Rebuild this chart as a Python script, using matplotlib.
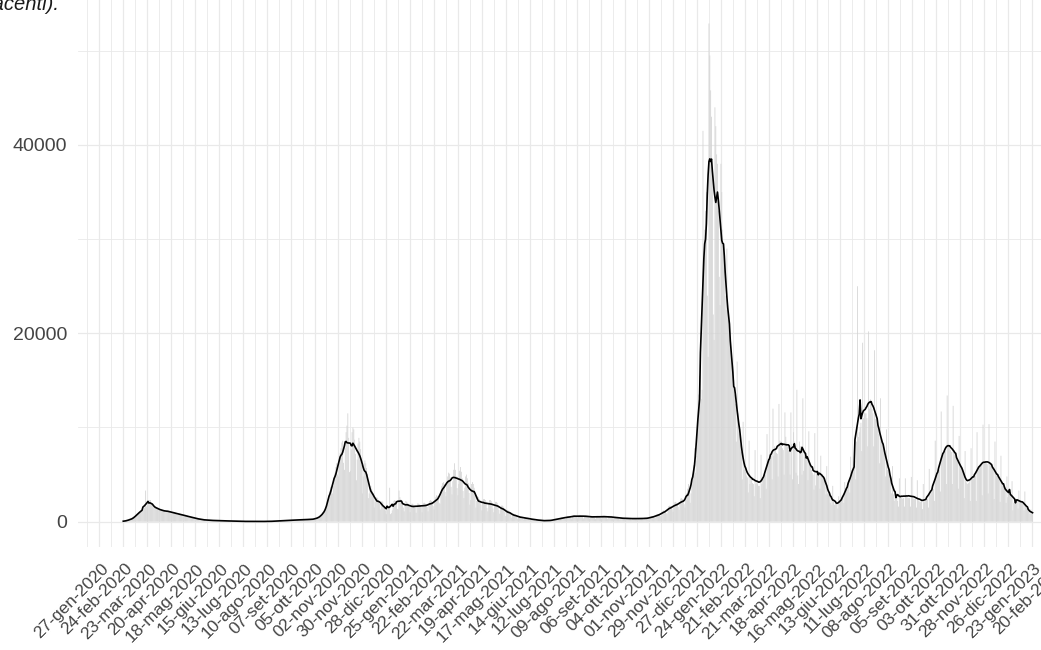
import numpy as np
import pandas as pd
import matplotlib
matplotlib.use("Agg")
import matplotlib.pyplot as plt
import matplotlib.dates as mdates
from matplotlib.transforms import ScaledTranslation

# Daily new positives, one row per week (Mon..Sun), grouped by ISO year.
cases_2020 = [
    20, 40, 60, 80, 110, 150, 170,
    180, 220, 260, 300, 340, 380, 420,
    550, 650, 750, 850, 950, 1000, 1060,
    1100, 1200, 1250, 1400, 1500, 3300, 1600,
    1700, 2000, 1900, 2300, 2300, 2000, 1800,
    1500, 1600, 1600, 1500, 1500, 1400, 1400,
    1200, 1300, 1250, 1250, 1200, 1200, 1150,
    1000, 1100, 1150, 1150, 1150, 1100, 1100,
    850, 950, 1000, 1000, 950, 950, 950,
    700, 750, 850, 850, 800, 800, 780,
    560, 600, 680, 680, 650, 640, 600,
    420, 450, 500, 500, 490, 480, 450,
    280, 300, 340, 340, 320, 300, 290,
    190, 190, 220, 210, 200, 200, 190,
    130, 140, 160, 160, 150, 140, 135,
    110, 115, 130, 130, 125, 115, 115,
    90, 95, 110, 110, 105, 100, 90,
    70, 75, 90, 90, 85, 80, 70,
    50, 55, 70, 70, 60, 60, 55,
    35, 40, 45, 45, 40, 40, 35,
    25, 30, 35, 35, 30, 30, 25,
    20, 25, 30, 30, 25, 25, 20,
    15, 20, 25, 25, 20, 20, 15,
    20, 25, 30, 30, 25, 25, 20,
    25, 30, 35, 35, 30, 30, 25,
    45, 55, 65, 65, 65, 60, 65,
    70, 85, 95, 100, 100, 95, 85,
    100, 110, 130, 130, 125, 125, 120,
    130, 150, 170, 175, 170, 165, 160,
    150, 180, 200, 210, 200, 200, 190,
    170, 210, 235, 240, 235, 230, 220,
    190, 230, 260, 270, 265, 260, 240,
    230, 300, 380, 420, 450, 480, 400,
    500, 650, 800, 950, 1050, 1150, 1200,
    1400, 1800, 2300, 2800, 3300, 3700, 3600,
    3000, 3800, 4600, 5200, 5800, 6200, 5000,
    4800, 6200, 7300, 7800, 8400, 8600, 6250,
    5500, 7800, 9500, 10200, 11500, 8900, 5260,
    5400, 7700, 9500, 10000, 9800, 8700, 7210,
    4400, 6600, 8300, 8900, 8500, 7700, 6000,
    3000, 4800, 6200, 6500, 6200, 5700, 5050,
    2500, 3000, 3700, 3800, 3500, 3200, 3050,
    1500, 2100, 2500, 2600, 2500, 2300, 1900,
    1300, 1900, 2200, 2100, 1700, 1500, 1200,
    800, 1300, 1500, 1600, 3600, 800, 900,
]

cases_2021 = [
    1200, 1900, 2200, 2300, 2200, 2000, 1360,
    1300, 3300, 2600, 2400, 2300, 2000, 1500,
    1100, 1700, 2200, 2100, 2000, 1900, 1600,
    1000, 1500, 1900, 1900, 1800, 1700, 1540,
    950, 1600, 1950, 1900, 1850, 1750, 1550,
    1000, 1650, 2000, 2000, 1900, 1800, 1550,
    1100, 1800, 2200, 2300, 2200, 2050, 1650,
    1300, 2100, 2600, 2800, 2700, 2600, 2000,
    1900, 3000, 3800, 4100, 4200, 4000, 3150,
    2700, 3900, 4800, 5200, 5100, 4700, 3700,
    2900, 4300, 5500, 6200, 5500, 4800, 3560,
    2800, 4000, 5400, 5800, 5300, 4600, 3250,
    2500, 3600, 4800, 5000, 4600, 4100, 3050,
    1800, 2300, 4000, 4200, 4000, 3600, 2850,
    1500, 2200, 2700, 2600, 2400, 2200, 1800,
    1200, 2000, 2400, 2400, 2300, 2100, 1460,
    1100, 1900, 2300, 2300, 2200, 1950, 1410,
    1000, 1700, 2100, 2100, 2000, 1750, 1250,
    850, 1400, 1700, 1700, 1600, 1400, 1010,
    600, 1000, 1250, 1200, 1150, 1000, 800,
    420, 700, 850, 800, 760, 690, 540,
    300, 480, 580, 560, 540, 500, 400,
    230, 370, 450, 430, 420, 380, 310,
    160, 260, 320, 300, 290, 270, 220,
    100, 170, 210, 200, 190, 180, 140,
    60, 110, 135, 130, 125, 115, 95,
    70, 120, 150, 160, 150, 140, 120,
    130, 230, 280, 300, 290, 280, 240,
    220, 380, 450, 450, 430, 400, 330,
    280, 480, 580, 570, 550, 500, 400,
    340, 580, 700, 690, 660, 600, 490,
    350, 600, 720, 710, 680, 630, 510,
    340, 570, 690, 670, 650, 590, 480,
    300, 510, 620, 600, 580, 530, 430,
    300, 520, 620, 610, 590, 540, 425,
    310, 530, 640, 630, 610, 550, 440,
    300, 510, 620, 600, 580, 530, 430,
    260, 440, 530, 520, 500, 460, 370,
    230, 370, 450, 430, 420, 380, 310,
    200, 340, 410, 400, 390, 350, 290,
    190, 330, 390, 380, 370, 340, 275,
    190, 330, 400, 390, 380, 340, 280,
    200, 350, 420, 410, 400, 370, 300,
    260, 420, 540, 560, 560, 520, 430,
    400, 620, 780, 800, 790, 750, 620,
    600, 900, 1150, 1200, 1150, 1100, 900,
    850, 1300, 1650, 1700, 1650, 1550, 1310,
    1050, 1650, 2050, 2100, 2000, 1900, 1570,
    1250, 1950, 2450, 2500, 2400, 2300, 1850,
    1500, 2300, 3000, 3500, 4000, 3300, 2000,
    3000, 4300, 5000, 6000, 7800, 5200, 6500,
    7000, 11000, 13500, 15500, 17000, 13000, 14000,
]

cases_2022 = [
    41500, 28000, 31000, 33000, 35000, 24000, 17500,
    52900, 49500, 45800, 43000, 37000, 22000, 19300,
    44000, 42000, 39000, 38000, 33000, 26000, 23000,
    38000, 35000, 31000, 29000, 27000, 24000, 22500,
    29000, 23000, 21500, 20000, 19000, 18000, 16500,
    16500, 15000, 13500, 12500, 8500, 17000, 11500,
    10500, 9300, 8200, 7400, 4500, 10600, 5500,
    5800, 5300, 4900, 4700, 3100, 8600, 4000,
    4700, 4400, 4100, 4000, 2700, 7600, 4000,
    4200, 4000, 3800, 3800, 2500, 7100, 4000,
    4500, 4600, 4700, 5000, 3500, 9300, 6200,
    6400, 6700, 6800, 7000, 4500, 12000, 7000,
    8000, 7600, 7300, 7200, 4800, 12500, 8600,
    8500, 8100, 7800, 7600, 5000, 11600, 9010,
    8400, 8000, 7600, 7500, 5000, 11600, 8250,
    4500, 9500, 8500, 8000, 5200, 14000, 4900,
    4000, 8500, 8000, 7800, 5000, 13100, 5400,
    7500, 7200, 6700, 6500, 4400, 9600, 6400,
    5800, 5500, 5200, 5000, 3400, 9400, 3850,
    5300, 5200, 5000, 5000, 3500, 7000, 5050,
    5000, 4700, 4400, 4200, 2900, 5900, 3000,
    3300, 3000, 2000, 2500, 1800, 3800, 2220,
    1800, 1900, 1900, 2000, 1400, 2700, 1950,
    2100, 2300, 2500, 2700, 2000, 4200, 3100,
    3400, 3700, 4000, 4300, 3100, 6900, 4700,
    5000, 5500, 6000, 6500, 4500, 8500, 25000,
    9000, 9500, 10000, 10500, 7500, 19000, 11000,
    11500, 11500, 11500, 11000, 8000, 20200, 12000,
    13000, 12500, 12000, 11500, 8000, 18200, 10900,
    11500, 10500, 10000, 9300, 6200, 13100, 8700,
    8500, 8000, 7500, 7000, 4800, 9800, 5500,
    5800, 5300, 4800, 4500, 3000, 5900, 2900,
    2200, 3300, 3000, 2700, 2200, 1600, 4600,
    2700, 2600, 2500, 2400, 2500, 1600, 4600,
    2800, 2600, 2500, 2500, 2500, 1600, 4750,
    2600, 2500, 2400, 2400, 2400, 1500, 4400,
    2300, 2200, 2100, 2100, 2200, 1340, 4000,
    2000, 2100, 2200, 2300, 2400, 1500, 5600,
    2800, 3000, 3200, 3300, 3500, 2200, 8600,
    4500, 4800, 5000, 5200, 5500, 3200, 11700,
    6800, 7000, 7200, 7300, 7500, 4000, 13400,
    8200, 8000, 7800, 7600, 7400, 4000, 12300,
    7600, 7300, 7000, 6700, 6400, 3500, 9100,
    6200, 6000, 5700, 5400, 5200, 2500, 7500,
    4300, 4100, 4000, 4100, 4300, 2200, 7800,
    4500, 4500, 4600, 4800, 4900, 2200, 9500,
    5400, 5600, 5800, 6000, 6100, 2800, 10300,
    6200, 6300, 6300, 6200, 6100, 3000, 10350,
    6200, 6100, 6000, 5800, 5600, 2400, 8500,
    5300, 5100, 4900, 4700, 4500, 2100, 7000,
    4200, 4000, 3800, 3600, 3500, 2000, 4800,
    2600, 3200, 3100, 3000, 2900, 4300, 1200,
]

cases_2023 = [
    2000, 2500, 2400, 2300, 2200, 1400, 3300,
    2100, 2200, 2100, 2000, 1900, 1200, 3200,
    1600, 1500, 1400, 1300, 1200, 800, 1300,
    900, 800,
]

first_day = "2020-02-24"
month_abbr = ["gen", "feb", "mar", "apr", "mag", "giu",
              "lug", "ago", "set", "ott", "nov", "dic"]
y_ticks = [0, 20000, 40000]
y_minor = [10000, 30000, 50000]

cases = cases_2020 + cases_2021 + cases_2022 + cases_2023
dates = pd.date_range(first_day, periods=len(cases), freq="D")
series = pd.Series(cases, index=dates, dtype=float)
smooth = series.rolling(7, center=True, min_periods=1).mean()

# 4-week breaks with minor lines halfway
tick_dates = pd.date_range("2020-01-27", "2023-02-20", freq="28D")
minor_dates = pd.date_range("2020-01-13", "2023-03-06", freq="28D")
tick_labels = [f"{d.day:02d}-{month_abbr[d.month - 1]}-{d.year}" for d in tick_dates]

plt.rcParams["font.family"] = ["Liberation Sans", "DejaVu Sans"]

W, H = 1041, 650
fig = plt.figure(figsize=(W / 100, H / 100), dpi=100)
# panel spans past the right and top edges of the canvas
px_left, px_right, px_top, px_bottom = 77.8, 1078.0, -5.7, 547.0
ax = fig.add_axes([px_left / W, (H - px_bottom) / H,
                   (px_right - px_left) / W, (px_bottom - px_top) / H])

xnum = mdates.date2num(dates.to_pydatetime())
span = xnum[-1] - xnum[0]
ax.set_xlim(xnum[0] - 0.05 * span, xnum[-1] + 0.05 * span)
ax.set_ylim(-2690, 56000)

grid_col = "#E9E9E9"
for d in mdates.date2num(tick_dates.to_pydatetime()):
    ax.axvline(d, color=grid_col, lw=0.9, zorder=0)
for d in mdates.date2num(minor_dates.to_pydatetime()):
    ax.axvline(d, color=grid_col, lw=0.6, zorder=0)
for v in y_ticks:
    ax.axhline(v, color=grid_col, lw=0.9, zorder=0)
for v in y_minor:
    ax.axhline(v, color=grid_col, lw=0.6, zorder=0)

bars = ax.bar(xnum, series.values, width=0.95, color="#D4D4D4",
              linewidth=0, zorder=1)
for b in bars:
    b.set_snap(False)
ax.plot(xnum, smooth.values, color="black", lw=1.2, zorder=2)

for s in ax.spines.values():
    s.set_visible(False)

ax.set_xticks(mdates.date2num(tick_dates.to_pydatetime()))
ax.set_xticklabels(tick_labels, rotation=45, ha="right", va="top",
                   rotation_mode="anchor", fontsize=12.5, color="#444444")
ax.set_yticks(y_ticks)
ax.set_yticklabels([str(v) for v in y_ticks], fontsize=14, color="#444444")
ax.tick_params(axis="both", length=0)
ax.tick_params(axis="x", pad=10)
ax.tick_params(axis="y", pad=7.6)

shift = ScaledTranslation(1.5 / 100, 0, fig.dpi_scale_trans)
for lab in ax.get_xticklabels():
    lab.set_transform(lab.get_transform() + shift)

fig.text(59 / W, 1 - 10 / H,
         "Nuovi casi giornalieri e media mobile a 7 giorni (giorni adiacenti).",
         ha="right", va="baseline", style="italic", fontsize=14.5, color="#1A1A1A")

fig.savefig("out.png", dpi=100, facecolor="white")
